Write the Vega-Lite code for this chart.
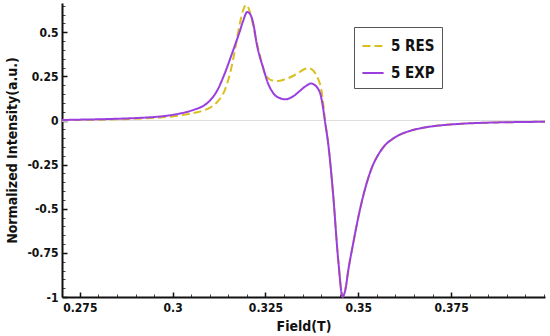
{
  "$schema": "https://vega.github.io/schema/vega-lite/v6.json",
  "width": 483,
  "height": 294,
  "autosize": {"type": "none"},
  "padding": {"left": 62, "top": 3, "right": 5, "bottom": 39},
  "config": {
    "view": {"stroke": null},
    "font": "DejaVu Sans Condensed, DejaVu Sans",
    "axis": {
      "grid": false,
      "domainColor": "#111111",
      "domainWidth": 2,
      "tickColor": "#111111",
      "labelFont": "DejaVu Sans Condensed, DejaVu Sans",
      "labelFontWeight": "bold",
      "labelFontSize": 12,
      "labelColor": "#111111",
      "titleFont": "DejaVu Sans Condensed, DejaVu Sans",
      "titleFontWeight": "bold",
      "titleFontSize": 14,
      "titleColor": "#111111"
    }
  },
  "datasets": {
    "spec": [
      {"series": "5 RES", "field": 0.2702, "intensity": 0.002},
      {"series": "5 RES", "field": 0.275, "intensity": 0.003},
      {"series": "5 RES", "field": 0.28, "intensity": 0.005},
      {"series": "5 RES", "field": 0.285, "intensity": 0.007},
      {"series": "5 RES", "field": 0.29, "intensity": 0.01},
      {"series": "5 RES", "field": 0.295, "intensity": 0.015},
      {"series": "5 RES", "field": 0.3, "intensity": 0.023},
      {"series": "5 RES", "field": 0.303, "intensity": 0.032},
      {"series": "5 RES", "field": 0.306, "intensity": 0.044},
      {"series": "5 RES", "field": 0.308, "intensity": 0.055},
      {"series": "5 RES", "field": 0.31, "intensity": 0.072},
      {"series": "5 RES", "field": 0.312, "intensity": 0.105},
      {"series": "5 RES", "field": 0.314, "intensity": 0.17},
      {"series": "5 RES", "field": 0.3155, "intensity": 0.27},
      {"series": "5 RES", "field": 0.3167, "intensity": 0.39},
      {"series": "5 RES", "field": 0.318, "intensity": 0.54},
      {"series": "5 RES", "field": 0.319, "intensity": 0.625},
      {"series": "5 RES", "field": 0.3197, "intensity": 0.655},
      {"series": "5 RES", "field": 0.3204, "intensity": 0.64},
      {"series": "5 RES", "field": 0.3212, "intensity": 0.585},
      {"series": "5 RES", "field": 0.3221, "intensity": 0.494},
      {"series": "5 RES", "field": 0.3235, "intensity": 0.371},
      {"series": "5 RES", "field": 0.3248, "intensity": 0.267},
      {"series": "5 RES", "field": 0.3257, "intensity": 0.24},
      {"series": "5 RES", "field": 0.3266, "intensity": 0.228},
      {"series": "5 RES", "field": 0.3284, "intensity": 0.224},
      {"series": "5 RES", "field": 0.33, "intensity": 0.232},
      {"series": "5 RES", "field": 0.332, "intensity": 0.248},
      {"series": "5 RES", "field": 0.334, "intensity": 0.272},
      {"series": "5 RES", "field": 0.3356, "intensity": 0.292},
      {"series": "5 RES", "field": 0.3364, "intensity": 0.297},
      {"series": "5 RES", "field": 0.3375, "intensity": 0.29},
      {"series": "5 RES", "field": 0.3385, "intensity": 0.265},
      {"series": "5 RES", "field": 0.3392, "intensity": 0.235},
      {"series": "5 RES", "field": 0.34, "intensity": 0.18},
      {"series": "5 RES", "field": 0.3405, "intensity": 0.11},
      {"series": "5 RES", "field": 0.341, "intensity": 0.01},
      {"series": "5 RES", "field": 0.3419, "intensity": -0.13},
      {"series": "5 RES", "field": 0.3432, "intensity": -0.41},
      {"series": "5 RES", "field": 0.3446, "intensity": -0.79},
      {"series": "5 RES", "field": 0.3458, "intensity": -0.998},
      {"series": "5 RES", "field": 0.3466, "intensity": -0.95},
      {"series": "5 RES", "field": 0.3473, "intensity": -0.85},
      {"series": "5 RES", "field": 0.3486, "intensity": -0.7},
      {"series": "5 RES", "field": 0.3504, "intensity": -0.51},
      {"series": "5 RES", "field": 0.3522, "intensity": -0.36},
      {"series": "5 RES", "field": 0.3538, "intensity": -0.26},
      {"series": "5 RES", "field": 0.3555, "intensity": -0.19},
      {"series": "5 RES", "field": 0.3572, "intensity": -0.14},
      {"series": "5 RES", "field": 0.359, "intensity": -0.108},
      {"series": "5 RES", "field": 0.3612, "intensity": -0.08},
      {"series": "5 RES", "field": 0.3633, "intensity": -0.063},
      {"series": "5 RES", "field": 0.3665, "intensity": -0.045},
      {"series": "5 RES", "field": 0.3695, "intensity": -0.034},
      {"series": "5 RES", "field": 0.3724, "intensity": -0.027},
      {"series": "5 RES", "field": 0.378, "intensity": -0.018},
      {"series": "5 RES", "field": 0.385, "intensity": -0.012},
      {"series": "5 RES", "field": 0.392, "intensity": -0.009},
      {"series": "5 RES", "field": 0.4003, "intensity": -0.007},
      {"series": "5 EXP", "field": 0.2702, "intensity": 0.003},
      {"series": "5 EXP", "field": 0.275, "intensity": 0.005},
      {"series": "5 EXP", "field": 0.28, "intensity": 0.007},
      {"series": "5 EXP", "field": 0.285, "intensity": 0.01},
      {"series": "5 EXP", "field": 0.29, "intensity": 0.014},
      {"series": "5 EXP", "field": 0.295, "intensity": 0.02},
      {"series": "5 EXP", "field": 0.298, "intensity": 0.026},
      {"series": "5 EXP", "field": 0.3, "intensity": 0.032},
      {"series": "5 EXP", "field": 0.302, "intensity": 0.04},
      {"series": "5 EXP", "field": 0.304, "intensity": 0.05},
      {"series": "5 EXP", "field": 0.306, "intensity": 0.063},
      {"series": "5 EXP", "field": 0.308, "intensity": 0.08},
      {"series": "5 EXP", "field": 0.31, "intensity": 0.112},
      {"series": "5 EXP", "field": 0.312, "intensity": 0.17},
      {"series": "5 EXP", "field": 0.314, "intensity": 0.265},
      {"series": "5 EXP", "field": 0.316, "intensity": 0.38},
      {"series": "5 EXP", "field": 0.318, "intensity": 0.5},
      {"series": "5 EXP", "field": 0.319, "intensity": 0.565},
      {"series": "5 EXP", "field": 0.3201, "intensity": 0.615},
      {"series": "5 EXP", "field": 0.321, "intensity": 0.598},
      {"series": "5 EXP", "field": 0.322, "intensity": 0.52},
      {"series": "5 EXP", "field": 0.3226, "intensity": 0.44},
      {"series": "5 EXP", "field": 0.3235, "intensity": 0.36},
      {"series": "5 EXP", "field": 0.3243, "intensity": 0.305},
      {"series": "5 EXP", "field": 0.3257, "intensity": 0.21},
      {"series": "5 EXP", "field": 0.3266, "intensity": 0.172},
      {"series": "5 EXP", "field": 0.3275, "intensity": 0.145},
      {"series": "5 EXP", "field": 0.329, "intensity": 0.126},
      {"series": "5 EXP", "field": 0.3302, "intensity": 0.12},
      {"series": "5 EXP", "field": 0.3315, "intensity": 0.126},
      {"series": "5 EXP", "field": 0.333, "intensity": 0.145},
      {"series": "5 EXP", "field": 0.3342, "intensity": 0.167},
      {"series": "5 EXP", "field": 0.336, "intensity": 0.197},
      {"series": "5 EXP", "field": 0.3372, "intensity": 0.21},
      {"series": "5 EXP", "field": 0.338, "intensity": 0.205},
      {"series": "5 EXP", "field": 0.339, "intensity": 0.185},
      {"series": "5 EXP", "field": 0.3398, "intensity": 0.15},
      {"series": "5 EXP", "field": 0.3405, "intensity": 0.075},
      {"series": "5 EXP", "field": 0.341, "intensity": 0.0},
      {"series": "5 EXP", "field": 0.3419, "intensity": -0.13},
      {"series": "5 EXP", "field": 0.3432, "intensity": -0.41},
      {"series": "5 EXP", "field": 0.3446, "intensity": -0.79},
      {"series": "5 EXP", "field": 0.3458, "intensity": -0.998},
      {"series": "5 EXP", "field": 0.3466, "intensity": -0.95},
      {"series": "5 EXP", "field": 0.3473, "intensity": -0.85},
      {"series": "5 EXP", "field": 0.3486, "intensity": -0.7},
      {"series": "5 EXP", "field": 0.3504, "intensity": -0.51},
      {"series": "5 EXP", "field": 0.3522, "intensity": -0.36},
      {"series": "5 EXP", "field": 0.3538, "intensity": -0.26},
      {"series": "5 EXP", "field": 0.3555, "intensity": -0.19},
      {"series": "5 EXP", "field": 0.3572, "intensity": -0.14},
      {"series": "5 EXP", "field": 0.359, "intensity": -0.108},
      {"series": "5 EXP", "field": 0.3612, "intensity": -0.08},
      {"series": "5 EXP", "field": 0.3633, "intensity": -0.063},
      {"series": "5 EXP", "field": 0.3665, "intensity": -0.045},
      {"series": "5 EXP", "field": 0.3695, "intensity": -0.034},
      {"series": "5 EXP", "field": 0.3724, "intensity": -0.027},
      {"series": "5 EXP", "field": 0.378, "intensity": -0.018},
      {"series": "5 EXP", "field": 0.385, "intensity": -0.012},
      {"series": "5 EXP", "field": 0.392, "intensity": -0.009},
      {"series": "5 EXP", "field": 0.4003, "intensity": -0.007}
    ]
  },
  "data": {"name": "spec"},
  "layer": [
    {
      "mark": {"type": "rule", "color": "#dddddd", "strokeWidth": 1},
      "encoding": {
        "y": {"datum": 0, "type": "quantitative", "axis": null}
      }
    },
    {
      "mark": {"type": "point", "opacity": 0},
      "encoding": {
        "x": {
          "field": "field", "type": "quantitative",
          "axis": {
            "orient": "bottom",
            "values": [0.27, 0.28, 0.285, 0.29, 0.295, 0.305, 0.31, 0.315, 0.32, 0.33, 0.335, 0.34, 0.345, 0.355, 0.36, 0.365, 0.37, 0.38, 0.385, 0.39, 0.395, 0.4],
            "labels": false, "domain": false, "title": null,
            "tickSize": -3, "tickWidth": 1, "tickColor": "#444444"
          }
        },
        "y": {
          "field": "intensity", "type": "quantitative",
          "axis": {
            "orient": "left",
            "values": [-0.95, -0.9, -0.85, -0.8, -0.7, -0.65, -0.6, -0.55, -0.45, -0.4, -0.35, -0.3, -0.2, -0.15, -0.1, -0.05, 0.05, 0.1, 0.15, 0.2, 0.3, 0.35, 0.4, 0.45, 0.55, 0.6, 0.65],
            "labels": false, "domain": false, "title": null,
            "tickSize": -3, "tickWidth": 1, "tickColor": "#444444"
          }
        }
      }
    },
    {
      "transform": [{"filter": "datum.series === '5 RES'"}],
      "mark": {"type": "line", "strokeWidth": 2, "interpolate": "monotone"},
      "encoding": {
        "x": {
          "field": "field", "type": "quantitative",
          "scale": {"domain": [0.2702, 0.4003], "nice": false, "zero": false},
          "axis": {
            "orient": "bottom",
            "values": [0.275, 0.3, 0.325, 0.35, 0.375],
            "labelExpr": "format(datum.value, '.3~g')",
            "tickSize": -5, "tickWidth": 1.5,
            "labelPadding": 10,
            "title": "Field(T)",
            "titleY": 33, "titleBaseline": "alphabetic"
          }
        },
        "y": {
          "field": "intensity", "type": "quantitative",
          "scale": {"domain": [-1, 0.666], "nice": false, "zero": false},
          "axis": {
            "orient": "left",
            "values": [-1, -0.75, -0.5, -0.25, 0, 0.25, 0.5],
            "labelExpr": "replace(format(datum.value, '~g'), '\u2212', '-')",
            "tickSize": -5, "tickWidth": 1.5,
            "labelPadding": 9,
            "title": "Normalized Intensity(a.u.)",
            "titleX": -50, "titleY": 147, "titleBaseline": "middle", "titleAngle": -90
          }
        },
        "color": {
          "field": "series", "type": "nominal",
          "scale": {"domain": ["5 RES", "5 EXP"], "range": ["#d9c020", "#9b3ee0"]},
          "legend": {
            "title": null, "orient": "none", "legendX": 292, "legendY": 24,
            "strokeColor": "#555555", "fillColor": "white", "padding": 7,
            "labelFont": "DejaVu Sans Condensed, DejaVu Sans", "labelFontWeight": "bold", "labelFontSize": 15, "labelColor": "#111111",
            "symbolType": "stroke", "symbolSize": 450, "symbolStrokeWidth": 2, "rowPadding": 7, "labelOffset": 6
          }
        },
        "strokeDash": {
          "field": "series", "type": "nominal",
          "scale": {"domain": ["5 RES", "5 EXP"], "range": [[8, 4], [1, 0]]},
          "legend": {
            "title": null, "orient": "none", "legendX": 292, "legendY": 24,
            "strokeColor": "#555555", "fillColor": "white", "padding": 7,
            "labelFont": "DejaVu Sans Condensed, DejaVu Sans", "labelFontWeight": "bold", "labelFontSize": 15, "labelColor": "#111111",
            "symbolType": "stroke", "symbolSize": 450, "symbolStrokeWidth": 2, "rowPadding": 7, "labelOffset": 6
          }
        }
      }
    },
    {
      "transform": [{"filter": "datum.series === '5 EXP'"}],
      "mark": {"type": "line", "strokeWidth": 2, "interpolate": "monotone"},
      "encoding": {
        "x": {"field": "field", "type": "quantitative", "axis": null},
        "y": {"field": "intensity", "type": "quantitative", "axis": null},
        "color": {"field": "series", "type": "nominal"},
        "strokeDash": {"field": "series", "type": "nominal"}
      }
    }
  ],
  "resolve": {"axis": {"x": "independent", "y": "independent"}}
}
